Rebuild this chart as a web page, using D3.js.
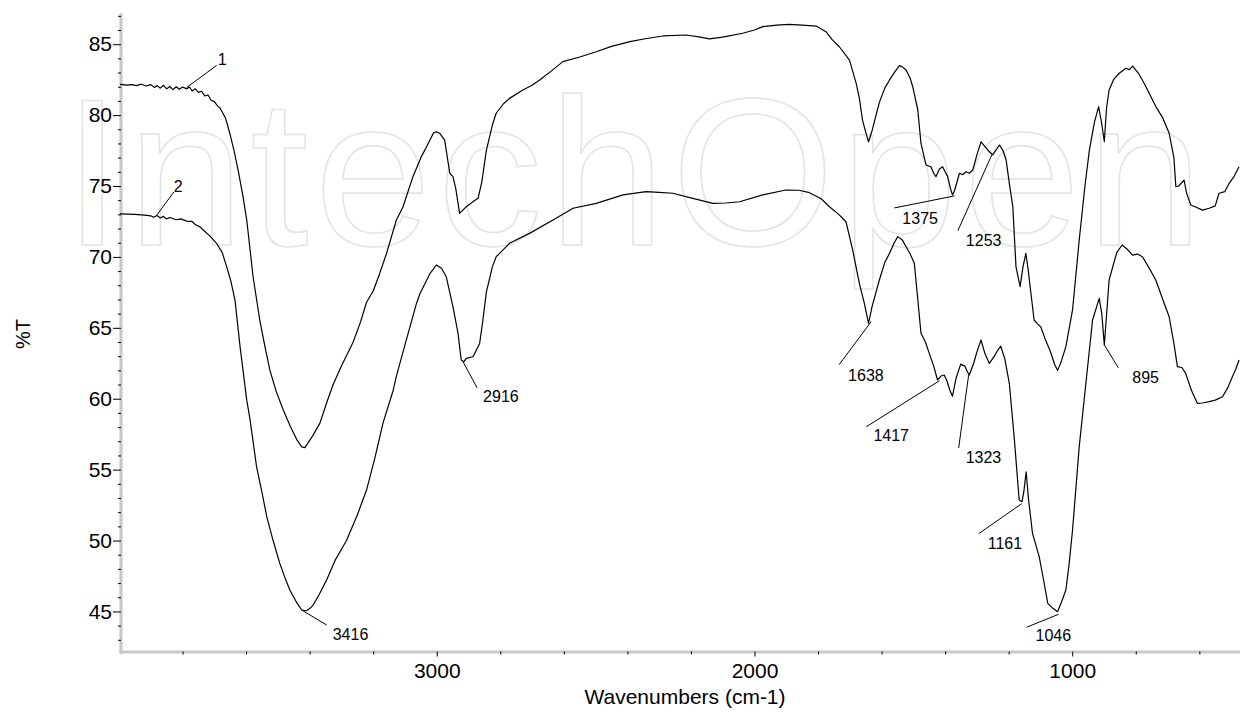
<!DOCTYPE html>
<html>
<head>
<meta charset="utf-8">
<script src="https://cdn.jsdelivr.net/npm/d3@7/dist/d3.min.js"></script>
<style>
  html, body { margin: 0; padding: 0; background: #fff; }
  svg { display: block; font-family: "Liberation Sans", Arial, sans-serif; }
  .curve { fill: none; stroke: #000; stroke-width: 1.2; stroke-linejoin: round; }
  .callout { stroke: #000; stroke-width: 1; }
  .callout-text { font-size: 16px; fill: #000; }
  .watermark { font-size: 210px; fill: none; stroke: #e4e4e4; stroke-width: 1.6; }
</style>
</head>
<body>
<svg id="chart" width="1240" height="712"></svg>
<script>
// spectrum 1 (upper trace), [wavenumber cm-1, %T]
const spectrum1 = [
  [3997, 82.17], [3975, 82.12], [3960, 82.15], [3945, 82.08], [3930, 82.18], [3915, 82.05], [3900, 82.15],
  [3888, 81.95], [3880, 82.08], [3870, 81.9], [3860, 82.1], [3850, 81.85], [3840, 82.02], [3830, 81.8],
  [3820, 82.0], [3810, 81.82], [3800, 81.98], [3787, 81.85], [3778, 81.98], [3770, 81.7], [3760, 81.85],
  [3750, 81.6], [3740, 81.68], [3730, 81.35], [3720, 81.42], [3710, 81.05], [3700, 80.95], [3690, 80.65],
  [3682, 80.5], [3665, 79.8], [3651, 78.7], [3638, 77.5], [3625, 76.1], [3610, 74.3], [3598, 72.6],
  [3578, 68.6], [3557, 65.55], [3540, 63.6], [3525, 62.0], [3505, 60.5], [3483, 59.2], [3460, 58.0],
  [3440, 57.1], [3425, 56.6], [3415, 56.55], [3406, 56.85], [3390, 57.4], [3368, 58.26], [3345, 59.8],
  [3326, 61.0], [3300, 62.3], [3263, 64.0], [3240, 65.4], [3221, 66.8], [3200, 67.6], [3180, 68.8],
  [3158, 70.25], [3127, 72.6], [3106, 73.54], [3075, 75.66], [3050, 77.0], [3032, 77.77], [3010, 78.75],
  [3001, 78.83], [2990, 78.7], [2975, 78.24], [2959, 75.9], [2949, 75.66], [2940, 74.8], [2928, 73.07],
  [2918, 73.3], [2907, 73.54], [2885, 73.9], [2870, 74.13], [2858, 75.3], [2844, 77.5], [2825, 79.3],
  [2813, 80.13], [2790, 80.8], [2771, 81.18], [2729, 81.77], [2700, 82.1], [2676, 82.48], [2640, 83.1],
  [2603, 83.77], [2550, 84.1], [2498, 84.47], [2450, 84.85], [2392, 85.18], [2340, 85.4], [2288, 85.58],
  [2215, 85.65], [2170, 85.5], [2142, 85.37], [2100, 85.5], [2037, 85.77], [2000, 86.0], [1974, 86.24],
  [1930, 86.35], [1890, 86.4], [1850, 86.35], [1806, 86.28], [1775, 85.88], [1755, 85.3], [1733, 84.82],
  [1701, 83.88], [1680, 82.24], [1670, 81.2], [1660, 79.65], [1650, 78.8], [1641, 78.12], [1630, 78.9],
  [1607, 80.9], [1590, 81.9], [1575, 82.48], [1560, 83.0], [1544, 83.49], [1535, 83.4], [1523, 83.18],
  [1510, 82.6], [1502, 82.0], [1486, 80.36], [1476, 78.0], [1460, 76.48], [1445, 76.36], [1436, 75.9],
  [1429, 75.66], [1418, 76.2], [1408, 76.36], [1400, 76.0], [1392, 75.66], [1383, 74.8], [1377, 74.37],
  [1370, 74.7], [1355, 75.9], [1345, 75.8], [1334, 76.0], [1324, 75.9], [1313, 76.13], [1300, 77.2],
  [1287, 78.12], [1275, 77.8], [1266, 77.54], [1250, 77.19], [1238, 77.6], [1229, 77.89], [1218, 77.5],
  [1208, 76.83], [1198, 75.19], [1187, 73.54], [1177, 69.3], [1164, 67.9], [1155, 69.3], [1146, 70.25],
  [1138, 69.0], [1135, 68.37], [1120, 65.55], [1110, 65.3], [1099, 65.07], [1085, 64.2], [1070, 63.4],
  [1055, 62.4], [1046, 62.0], [1035, 62.6], [1020, 63.67], [999, 66.26], [978, 71.19], [960, 75.0],
  [946, 77.53], [930, 79.5], [917, 80.6], [908, 79.5], [899, 78.12], [892, 80.5], [884, 81.77],
  [870, 82.5], [852, 82.95], [831, 83.3], [820, 83.2], [810, 83.46], [790, 82.9], [768, 82.0],
  [737, 80.6], [715, 79.8], [695, 78.72], [680, 77.0], [674, 74.96], [665, 75.0], [648, 75.42],
  [640, 74.5], [627, 73.66], [610, 73.5], [590, 73.3], [569, 73.43], [550, 73.6], [538, 74.49],
  [520, 74.6], [506, 75.19], [490, 75.7], [475, 76.36]
];

// spectrum 2 (lower trace)
const spectrum2 = [
  [3997, 73.03], [3950, 73.0], [3920, 72.95], [3900, 72.9], [3892, 72.8], [3880, 72.92], [3870, 72.75],
  [3860, 72.86], [3850, 72.68], [3840, 72.78], [3820, 72.62], [3805, 72.68], [3787, 72.52], [3770, 72.5],
  [3760, 72.28], [3745, 72.12], [3735, 71.9], [3715, 71.5], [3693, 70.96], [3675, 70.3], [3661, 69.3],
  [3648, 68.3], [3635, 66.96], [3619, 63.67], [3598, 59.9], [3588, 58.6], [3567, 55.2], [3550, 53.4],
  [3535, 51.68], [3515, 50.0], [3494, 48.39], [3478, 47.4], [3462, 46.5], [3440, 45.6], [3425, 45.1],
  [3410, 45.05], [3400, 45.2], [3389, 45.45], [3370, 46.2], [3347, 47.2], [3320, 48.6], [3284, 50.0],
  [3250, 51.8], [3221, 53.56], [3195, 55.8], [3169, 58.3], [3137, 60.6], [3127, 61.6], [3095, 64.2],
  [3064, 66.7], [3053, 67.4], [3022, 68.8], [3001, 69.43], [2985, 69.2], [2970, 68.6], [2949, 66.49],
  [2933, 64.61], [2923, 62.73], [2915, 62.6], [2907, 62.85], [2886, 62.96], [2865, 63.9], [2855, 65.5],
  [2844, 67.5], [2825, 69.3], [2813, 70.01], [2771, 70.96], [2708, 71.66], [2634, 72.6], [2571, 73.43],
  [2498, 73.78], [2414, 74.37], [2341, 74.6], [2300, 74.55], [2257, 74.49], [2194, 74.13], [2131, 73.78],
  [2090, 73.8], [2047, 73.89], [1974, 74.37], [1901, 74.72], [1860, 74.7], [1827, 74.53], [1790, 74.1],
  [1764, 73.54], [1735, 73.0], [1712, 72.48], [1691, 70.49], [1670, 68.14], [1655, 66.8], [1641, 65.32],
  [1630, 66.5], [1607, 68.37], [1590, 69.6], [1575, 70.25], [1560, 71.0], [1549, 71.43], [1535, 71.2],
  [1523, 70.72], [1510, 70.2], [1497, 69.55], [1486, 67.0], [1476, 64.61], [1462, 64.0], [1450, 63.2],
  [1436, 62.3], [1424, 61.32], [1413, 61.6], [1403, 61.67], [1395, 61.3], [1385, 60.6], [1377, 60.18],
  [1365, 61.5], [1351, 62.44], [1338, 62.3], [1330, 61.9], [1324, 61.67], [1310, 62.5], [1300, 63.3],
  [1287, 64.14], [1275, 63.2], [1261, 62.49], [1245, 63.0], [1235, 63.4], [1225, 63.71], [1212, 62.8],
  [1198, 61.09], [1182, 57.1], [1167, 52.86], [1158, 52.74], [1152, 53.5], [1145, 54.85], [1138, 53.0],
  [1125, 50.5], [1104, 48.86], [1090, 47.2], [1077, 45.57], [1060, 45.2], [1046, 44.98], [1035, 45.6],
  [1020, 46.51], [1010, 48.3], [999, 50.74], [978, 56.62], [957, 61.09], [936, 65.55], [915, 67.08],
  [907, 66.0], [899, 63.79], [890, 66.5], [884, 68.37], [860, 70.3], [843, 70.84], [825, 70.5],
  [810, 70.13], [795, 70.2], [779, 70.01], [760, 69.3], [737, 68.37], [715, 67.0], [695, 65.78],
  [680, 63.9], [669, 62.26], [655, 62.2], [643, 61.79], [625, 60.6], [606, 59.67], [590, 59.7],
  [569, 59.79], [550, 59.9], [527, 60.14], [510, 60.8], [496, 61.55], [485, 62.1], [475, 62.73]
];

// peak labels and the point of the trace they point at
const peakLabels = ['1', '2', '3416', '2916', '1638', '1417', '1323', '1161', '1046', '895', '1375', '1253'];
const peakWavenumbers = [3787, 3881, 3425, 2917, 1633, 1418, 1326, 1159, 1043, 899, 1371, 1253];
const peakTransmittance = [81.95, 72.95, 45.1, 62.6, 65.43, 61.27, 61.67, 52.6, 44.8, 63.8, 74.3, 77.2];

const xMajorTicks = [3000, 2000, 1000];
const yMajorTicks = [45, 50, 55, 60, 65, 70, 75, 80, 85];
const xDomain = [4000, 472];
const yDomain = [42.14, 87.08];

const xTitle = 'Wavenumbers (cm-1)';
const yTitle = '%T';
const watermarkText = 'IntechOpen';

// leader line end and text offsets (px) for each label
const calloutLayout = {
  '1':    {line: [30, -22], text: [1, 0]},
  '2':    {line: [17, -23], text: [0, 0]},
  '3416': {line: [25, 15],  text: [6, 15]},
  '2916': {line: [14, 26],  text: [6, 14]},
  '1638': {line: [-32, 43], text: [9, 16]},
  '1417': {line: [-73, 46], text: [7, 14]},
  '1323': {line: [-10, 73], text: [7, 15]},
  '1161': {line: [-43, 30], text: [9, 15]},
  '1046': {line: [-32, 13], text: [9, 14]},
  '895':  {line: [14, 23],  text: [14, 15]},
  '1375': {line: [-60, 12], text: [8, 16]},
  '1253': {line: [-34, 76], text: [8, 15]}
};

class FtirChart {
    constructor(svgNode) {
        this.$svg = d3.select(svgNode);
        this.xScale = d3.scaleLinear().domain(xDomain).range([119, 1240]);
        this.yScale = d3.scaleLinear().domain(yDomain).range([652, 14.7]);
    }

    render() {
        this._renderWatermark();
        this._renderAxes();
        this._renderLines();
        this._renderCallouts();
        this._renderTitles();
    }

    _renderWatermark() {
        this.$svg.append('text')
            .attr('class', 'watermark')
            .attr('x', 63)
            .attr('y', 245)
            .attr('textLength', 1140)
            .attr('lengthAdjust', 'spacing')
            .text(watermarkText);
    }

    _renderAxes() {
        const x = this.xScale, y = this.yScale;
        const xMinor = d3.range(3800, 471, -200).filter(d => !xMajorTicks.includes(d));
        const yMinor = d3.range(43, 88).filter(d => !yMajorTicks.includes(d));

        const xAxisG = this.$svg.append('g').attr('transform', 'translate(0,651.5)');
        xAxisG.call(d3.axisBottom(x).tickValues(xMinor).tickSize(3).tickSizeOuter(0).tickFormat(''));
        xAxisG.call(g => g.select('.domain').attr('stroke', '#c8c8c8').attr('stroke-width', 3.2));
        const xMajorG = this.$svg.append('g').attr('transform', 'translate(0,651.5)');
        xMajorG.call(d3.axisBottom(x).tickValues(xMajorTicks).tickSize(5).tickSizeOuter(0).tickFormat(d3.format('d')));
        xMajorG.select('.domain').remove();
        xMajorG.selectAll('text')
            .attr('y', 26).attr('dy', 0)
            .attr('font-size', 21).attr('font-family', 'Liberation Sans, Arial, sans-serif');

        const yAxisG = this.$svg.append('g').attr('transform', 'translate(121,0)');
        yAxisG.call(d3.axisLeft(y).tickValues(yMinor).tickSize(3).tickSizeOuter(0).tickFormat(''));
        yAxisG.select('.domain')
            .attr('stroke', '#c8c8c8').attr('stroke-width', 3.2)
            .attr('d', 'M0,13.3V654');
        const yMajorG = this.$svg.append('g').attr('transform', 'translate(121,0)');
        yMajorG.call(d3.axisLeft(y).tickValues(yMajorTicks).tickSize(8).tickSizeOuter(0));
        yMajorG.select('.domain').remove();
        yMajorG.selectAll('text')
            .attr('x', -9)
            .attr('font-size', 21).attr('font-family', 'Liberation Sans, Arial, sans-serif');
    }

    _renderLines() {
        const line = d3.line()
            .curve(d3.curveLinear)
            .x(d => this.xScale(d[0]))
            .y(d => this.yScale(d[1]));

        [spectrum1, spectrum2].forEach(data => {
            this.$svg.append('path')
                .attr('class', 'curve')
                .attr('d', line(data));
        });
    }

    _renderCallouts() {
        const group = this.$svg.append('g');
        peakLabels.forEach((label, i) => {
            const px = this.xScale(peakWavenumbers[i]);
            const py = this.yScale(peakTransmittance[i]);
            const layout = calloutLayout[label];
            const ex = px + layout.line[0], ey = py + layout.line[1];

            group.append('line')
                .attr('class', 'callout')
                .attr('x1', px).attr('y1', py)
                .attr('x2', ex).attr('y2', ey);

            group.append('text')
                .attr('class', 'callout-text')
                .attr('x', ex + layout.text[0])
                .attr('y', ey + layout.text[1])
                .text(label);
        });
    }

    _renderTitles() {
        this.$svg.append('text')
            .attr('x', 685)
            .attr('y', 704)
            .attr('text-anchor', 'middle')
            .attr('font-size', 21)
            .text(xTitle);

        this.$svg.append('text')
            .attr('transform', 'translate(30,334) rotate(-90)')
            .attr('text-anchor', 'middle')
            .attr('font-size', 20)
            .text(yTitle);
    }
}

new FtirChart(document.getElementById('chart')).render();
</script>
</body>
</html>
